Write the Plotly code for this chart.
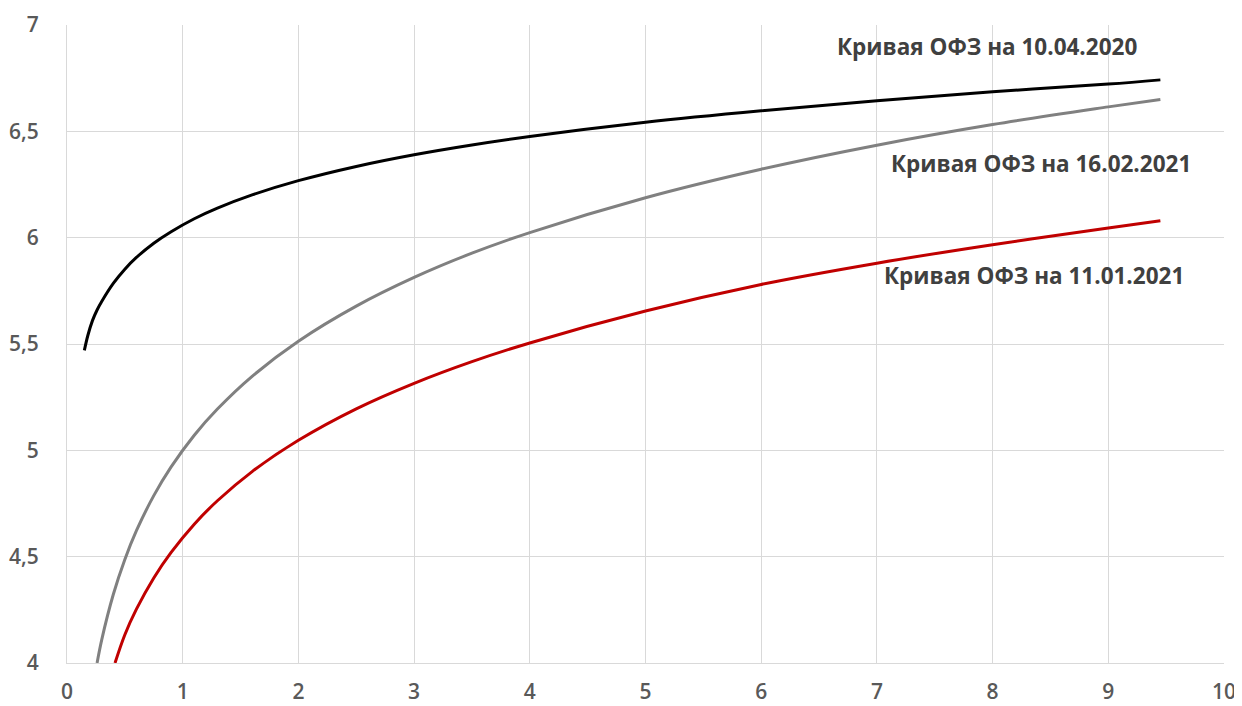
import plotly.graph_objects as go

# Data
x_2020 = [0.15, 0.18, 0.22, 0.26, 0.3, 0.4, 0.5, 0.6, 0.75, 0.9, 1.1, 1.3, 1.6, 2, 2.5, 3, 3.5, 4, 5, 6, 7, 8, 9, 9.45]
y_2020 = [5.47, 5.54, 5.61, 5.66, 5.70, 5.785, 5.852, 5.907, 5.974, 6.028, 6.089, 6.139, 6.201, 6.268, 6.335, 6.39, 6.436, 6.476, 6.543, 6.597, 6.644, 6.686, 6.722, 6.742]

x_feb21 = [0.26, 0.3, 0.4, 0.5, 0.6, 0.75, 0.9, 1.1, 1.3, 1.6, 2, 2.5, 3, 3.5, 4, 5, 6, 7, 8, 9, 9.45]
y_feb21 = [4.0, 4.109, 4.322, 4.487, 4.622, 4.787, 4.922, 5.071, 5.194, 5.348, 5.513, 5.678, 5.813, 5.927, 6.024, 6.188, 6.322, 6.435, 6.532, 6.615, 6.65]

x_jan21 = [0.415, 0.5, 0.6, 0.75, 0.9, 1.1, 1.3, 1.6, 2, 2.5, 3, 3.5, 4, 5, 6, 7, 8, 9, 9.45]
y_jan21 = [4.0, 4.133, 4.253, 4.40, 4.52, 4.653, 4.763, 4.90, 5.047, 5.195, 5.315, 5.417, 5.505, 5.655, 5.78, 5.88, 5.967, 6.045, 6.08]

labels = ["Кривая ОФЗ на 10.04.2020", "Кривая ОФЗ на 16.02.2021", "Кривая ОФЗ на 11.01.2021"]
label_x = [7.95, 8.42, 8.36]
label_y = [6.897, 6.35, 5.82]

x_ticks = list(range(0, 11))
y_ticks = [4, 4.5, 5, 5.5, 6, 6.5, 7]

fig = go.Figure()
fig.add_trace(go.Scatter(x=x_2020, y=y_2020, mode="lines", line=dict(color="#000000", width=3, shape="spline"), name=labels[0]))
fig.add_trace(go.Scatter(x=x_feb21, y=y_feb21, mode="lines", line=dict(color="#808080", width=3, shape="spline"), name=labels[1]))
fig.add_trace(go.Scatter(x=x_jan21, y=y_jan21, mode="lines", line=dict(color="#C00000", width=3, shape="spline"), name=labels[2]))

for t, lx, ly in zip(labels, label_x, label_y):
    fig.add_annotation(x=lx, y=ly, text=t, showarrow=False, xref="x", yref="y",
                       font=dict(family="Open Sans", size=22.5, color="#404040", weight="bold"))

fig.update_layout(
    width=1234, height=698,
    margin=dict(l=59, r=18, t=17, b=43, autoexpand=False),
    paper_bgcolor="white", plot_bgcolor="white",
    showlegend=False,
    separators=", ",
    font=dict(family="Open Sans", size=21, color="#595959"),
)
fig.update_xaxes(range=[0, 10], tickvals=x_ticks, showgrid=True, gridcolor="#d9d9d9", gridwidth=1,
                 showline=True, linecolor="#d9d9d9", linewidth=1, zeroline=False, ticks="",
                 automargin=False, ticklabelstandoff=10,
                 tickfont=dict(family="Open Sans", size=21, color="#595959", weight=600))
fig.update_yaxes(range=[4, 7], tickvals=y_ticks, showgrid=True, gridcolor="#d9d9d9", gridwidth=1,
                 showline=True, linecolor="#d9d9d9", linewidth=1, zeroline=False, ticks="",
                 automargin=False, ticklabelstandoff=23,
                 tickfont=dict(family="Open Sans", size=21, color="#595959", weight=600))

fig.write_html("out.html")
